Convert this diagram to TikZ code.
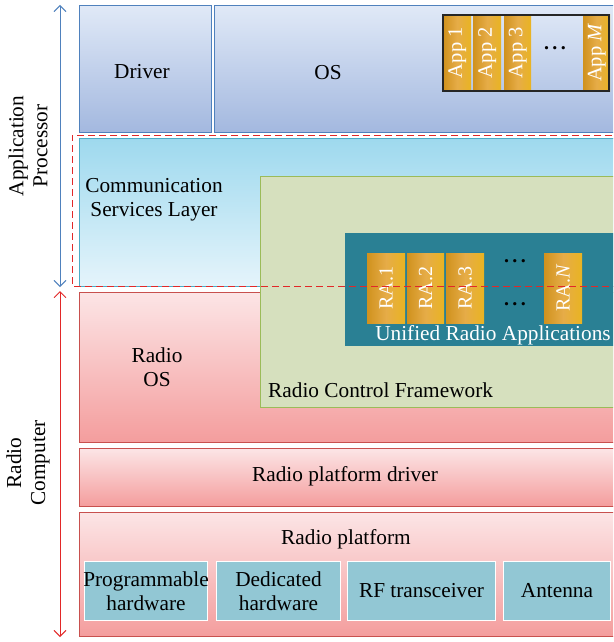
\documentclass[tikz,border=0pt]{standalone}
\usepackage{fontspec}
\setmainfont{Liberation Serif}
\usetikzlibrary{arrows.meta}

\definecolor{bluetop}{RGB}{224,233,247}
\definecolor{bluebot}{RGB}{163,184,223}
\definecolor{blueedge}{RGB}{79,129,189}
\definecolor{cyantop}{RGB}{158,217,238}
\definecolor{cyanbot}{RGB}{229,244,251}
\definecolor{cyanedge}{RGB}{75,172,198}
\definecolor{pinktop}{RGB}{252,229,230}
\definecolor{pinkbot}{RGB}{244,157,157}
\definecolor{pinkedge}{RGB}{200,80,78}
\definecolor{rcfgreen}{RGB}{214,224,190}
\definecolor{rcfedge}{RGB}{155,187,89}
\definecolor{uratea}{RGB}{42,128,148}
\definecolor{orL}{RGB}{208,146,30}
\definecolor{orM}{RGB}{230,172,72}
\definecolor{orR}{RGB}{233,180,34}
\definecolor{hwfill}{RGB}{146,199,212}
\definecolor{arrowred}{RGB}{226,40,40}

\tikzset{
  txt/.style={font=\fontsize{21.3}{24}\selectfont, align=center, inner sep=0pt},
  lay/.style={anchor=north west, inner sep=0pt, line width=0.9pt},
  bluelay/.style={lay, draw=blueedge, top color=bluetop, bottom color=bluebot},
  cyanlay/.style={lay, draw=cyanedge, top color=cyantop, bottom color=cyanbot},
  pinklay/.style={lay, draw=pinkedge, top color=pinktop, bottom color=pinkbot},
  appbox/.style={anchor=north west, inner sep=0pt, left color=orL, right color=orR, middle color=orM},
  applbl/.style={rotate=90, text=white, font=\fontsize{20.5}{20}\selectfont, inner sep=0pt},
  hwbox/.style={anchor=north west, inner sep=0pt, fill=hwfill, draw=white, line width=1pt},
  dotsl/.style={font=\fontsize{20}{20}\selectfont\bfseries, inner sep=0pt},
  span/.style={line width=0.9pt, {Straight Barb[length=6pt,width=12pt]}-{Straight Barb[length=6pt,width=12pt]}},
}

\begin{document}
\begin{tikzpicture}[x=1pt, y=-1pt]
\clip (0,0) rectangle (613,642);
\fill[white] (0,0) rectangle (613,642);

% application processor layers
\node[bluelay, minimum width=132, minimum height=127] (drv) at (79,5) {};
\node[txt] (drvt) at (142,72) {Driver};
\node[bluelay, minimum width=420, minimum height=127] (os) at (214,5) {};
\node[txt] (ost) at (328,73) {OS};

% applications
\node[appbox, minimum width=28, minimum height=77] (app1) at (443,14) {};
\node[appbox, minimum width=28, minimum height=77] (app2) at (473,14) {};
\node[appbox, minimum width=27, minimum height=77] (app3) at (504,14) {};
\node[appbox, minimum width=27, minimum height=77] (appm) at (583,14) {};
\node[applbl] at (app1.center) {App 1};
\node[applbl] at (app2.center) {App 2};
\node[applbl] at (app3.center) {App 3};
\node[applbl] at (appm.center) {App \textit{M}};
\node[dotsl] (appdots) at (555,48) {.\,.\,.};
\draw[line width=1.2pt, black!85] (443,15) rectangle (609,91);

% communication services layer
\node[cyanlay, minimum width=560, minimum height=148] (csl) at (79,138) {};
\node[txt] (cslt) at (154,200) {Communication\\Services Layer};

% radio OS
\node[pinklay, minimum width=560, minimum height=150] (ros) at (79,292) {};
\node[txt] (rost) at (157,367) {Radio\\OS};

% radio control framework
\node[anchor=north west, inner sep=0pt, fill=rcfgreen, draw=rcfedge, line width=0.9pt,
      minimum width=380, minimum height=231] (rcf) at (260,176) {};
\node[txt, anchor=west] (rcft) at (268,390) {Radio Control Framework};

% unified radio applications
\node[anchor=north west, inner sep=0pt, fill=uratea, minimum width=300, minimum height=113] (ura) at (345,233) {};
\node[txt, text=white] (urat) at (493,335) {Unified Radio Applications};
\node[appbox, minimum width=38, minimum height=70] (ra1) at (367,253) {};
\node[appbox, minimum width=37, minimum height=70] (ra2) at (407,253) {};
\node[appbox, minimum width=38, minimum height=70] (ra3) at (446,253) {};
\node[appbox, minimum width=38, minimum height=70] (ran) at (544,253) {};
\node[applbl, font=\fontsize{20}{20}\selectfont] at (ra1.center) {RA.1};
\node[applbl, font=\fontsize{20}{20}\selectfont] at (ra2.center) {RA.2};
\node[applbl, font=\fontsize{20}{20}\selectfont] at (ra3.center) {RA.3};
\node[applbl, font=\fontsize{20}{20}\selectfont] at (ran.center) {RA.\textit{N}};
\node[dotsl] (radots1) at (515,261) {.\,.\,.};
\node[dotsl] (radots2) at (515,304) {.\,.\,.};

% radio platform driver and radio platform
\node[pinklay, minimum width=560, minimum height=58] (rpd) at (79,448) {};
\node[txt] (rpdt) at (345,476) {Radio platform driver};
\node[pinklay, minimum width=560, minimum height=124] (rp) at (79,512) {};
\node[txt] (rpt) at (346,539) {Radio platform};

\node[hwbox, minimum width=123, minimum height=59] (hw1) at (84,561) {};
\node[txt] at (hw1.center) {Programmable\\hardware};
\node[hwbox, minimum width=124, minimum height=59] (hw2) at (216,561) {};
\node[txt] at (hw2.center) {Dedicated\\hardware};
\node[hwbox, minimum width=148, minimum height=59] (hw3) at (347,561) {};
\node[txt] at (hw3.center) {RF transceiver};
\node[hwbox, minimum width=107, minimum height=59] (hw4) at (503,561) {};
\node[txt] at (hw4.center) {Antenna};

% boundary of the application processor domain
\draw[arrowred, line width=1pt, dash pattern=on 7pt off 4pt] (700,135) -- (72,135) -- (72,286) -- (700,286);

% vertical spans
\coordinate (apTop) at (60,5);
\coordinate (apBot) at (60,287);
\coordinate (rcTop) at (60,291);
\coordinate (rcBot) at (60,637);
\draw[span, blueedge] (apTop) -- (apBot);
\draw[span, arrowred] (rcTop) -- (rcBot);
\node[txt, rotate=90] (aplbl) at (28,146) {Application\\Processor};
\node[txt, rotate=90] (rclbl) at (28,463) {Radio\\Computer};
\end{tikzpicture}
\end{document}
